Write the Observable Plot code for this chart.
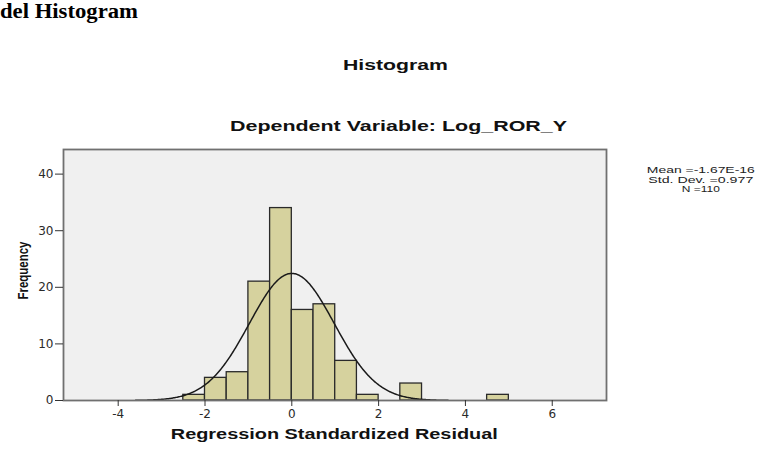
<!DOCTYPE html>
<html><head><meta charset="utf-8">
<script src="https://cdn.jsdelivr.net/npm/d3@7"></script>
<script src="https://cdn.jsdelivr.net/npm/@observablehq/plot@0.6"></script>
<style>body{margin:0;background:#fff;} #chart{width:758px;height:462px;}</style>
</head><body><div id="chart"></div>
<script>
// Data
const binLower = [-2.5, -2, -1.5, -1, -0.5, 0, 0.5, 1, 1.5, 2.5, 4.5];
const binWidth = 0.5;
const counts = [1, 4, 5, 21, 34, 16, 17, 7, 1, 3, 1];
const xTicks = [-4, -2, 0, 2, 4, 6];
const yTicks = [0, 10, 20, 30, 40];
const statMean = -1.67e-16;
const statStdDev = 0.977;
const statN = 110;
const statLabels = ["Mean =-1.67E-16", "Std. Dev. =0.977", "N =110"];
const curveRange = [-3.6, 3.6];

const bins = binLower.map((x, i) => ({x1: x, x2: x + binWidth, count: counts[i]}));
// Fitted normal curve from the stated Mean, Std. Dev. and N
const curve = d3.range(curveRange[0], curveRange[1] + 1e-9, 0.02).map(x => ({
  x,
  y: statN * binWidth * Math.exp(-0.5 * ((x - statMean) / statStdDev) ** 2) / (statStdDev * Math.sqrt(2 * Math.PI))
}));

const plot = Plot.plot({
  width: 758, height: 462,
  marginLeft: 63, marginRight: 152, marginTop: 149, marginBottom: 62,
  style: {fontFamily: "'DejaVu Sans', sans-serif", fontSize: "12px", color: "#2a2a2a", background: "#fff"},
  x: {domain: [-5.26, 7.25]},
  y: {domain: [0, 44.35]},
  marks: [
    Plot.frame({fill: "#f0f0f0", stroke: null}),
    Plot.rectY(bins, {x1: "x1", x2: "x2", y: "count", fill: "#d6d29e", stroke: "#2a2a2a", strokeWidth: 1.3}),
    Plot.line(curve, {x: "x", y: "y", stroke: "#1a1a1a", strokeWidth: 1.5}),
    Plot.frame({stroke: "#707070", strokeWidth: 1.8}),
    Plot.axisX({ticks: xTicks, tickSize: 6, tickPadding: 3, label: null, stroke: "#333", tickFormat: d => String(d)}),
    Plot.axisY({ticks: yTicks, tickSize: 8, tickPadding: 2, label: null, stroke: "#333", tickFormat: d => String(d)})
  ]
});
document.getElementById("chart").appendChild(plot);

const svg = d3.select(plot);
function addText(str, x, y, o) {
  const t = svg.append("text")
    .attr("x", x).attr("y", y)
    .attr("text-anchor", o.anchor || "middle")
    .attr("font-family", o.family || "'Liberation Sans', Arial, sans-serif")
    .attr("font-weight", o.weight || "normal")
    .attr("font-size", o.size)
    .attr("fill", o.fill || "#111")
    .text(str);
  if (o.length) t.attr("textLength", o.length).attr("lengthAdjust", "spacingAndGlyphs");
  if (o.rotate) t.attr("transform", `rotate(${o.rotate},${x},${y})`);
  return t;
}
addText("del Histogram", 0, 18, {anchor: "start", family: "'Liberation Serif', 'Times New Roman', serif", weight: "bold", size: 20, length: 138, fill: "#000"});
addText("Histogram", 395.5, 70, {weight: "bold", size: 15, length: 105});
addText("Dependent Variable: Log_ROR_Y", 398.5, 131, {weight: "bold", size: 14, length: 337});
addText("Regression Standardized Residual", 334.3, 438.5, {weight: "bold", size: 14, length: 327});
addText("Frequency", 28, 270.5, {weight: "bold", size: 14, length: 58, rotate: -90});
const statBaselines = [173, 182.5, 192];
const statLengths = [108, 105, 38];
statLabels.forEach((s, i) => addText(s, 700.8, statBaselines[i], {size: 8.5, length: statLengths[i], fill: "#222"}));
</script>
</body></html>
